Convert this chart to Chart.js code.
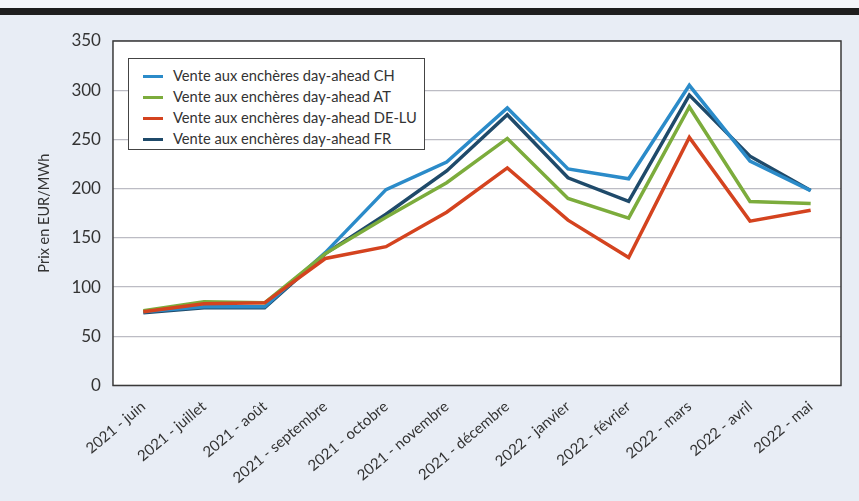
<!DOCTYPE html>
<html><head><meta charset="utf-8">
<script src="https://cdn.jsdelivr.net/npm/chart.js@4"></script>
<style>
html,body{margin:0;padding:0;width:859px;height:501px;overflow:hidden;background:#e8edf5;font-family:Lato,"Open Sans",sans-serif;}
#topbar{position:absolute;left:0;top:0;width:859px;height:8px;background:#f4f6fa;}
#bar{position:absolute;left:0;top:8px;width:859px;height:7px;background:#1e1e1e;}
#wrap{position:absolute;left:0;top:0;width:859px;height:501px;}
#legend{position:absolute;left:128px;top:58px;width:297px;height:92px;border:1.5px solid #444;background:#fff;box-sizing:border-box;padding:6px 0 0 14px;font-size:14.7px;color:#333;}
#legend div{height:21px;line-height:21px;white-space:nowrap;}
#legend span{display:inline-block;width:20px;height:3px;vertical-align:middle;margin-right:10px;position:relative;top:-1px;}
</style></head>
<body>
<div id="wrap"><canvas id="c" width="859" height="501"></canvas></div>
<div id="topbar"></div><div id="bar"></div>
<div id="legend"></div>
<script>
const categories = ["2021 - juin","2021 - juillet","2021 - août","2021 - septembre","2021 - octobre","2021 - novembre","2021 - décembre","2022 - janvier","2022 - février","2022 - mars","2022 - avril","2022 - mai"];
const seriesNames = ["Vente aux enchères day-ahead CH","Vente aux enchères day-ahead AT","Vente aux enchères day-ahead DE-LU","Vente aux enchères day-ahead FR"];
const valuesCH = [75, 80, 80, 135, 199, 227, 282, 220, 210, 305, 228, 198];
const valuesAT = [76, 85, 84, 134, 171, 206, 251, 190, 170, 283, 187, 185];
const valuesDE = [75, 83, 84, 129, 141, 176, 221, 168, 130, 252, 167, 178];
const valuesFR = [74, 79, 79, 134, 174, 218, 275, 211, 187, 295, 233, 198];
const colors = ["#2b8bc9","#7cac3c","#d4431f","#1f4a6a"];
const yTicks = [0,50,100,150,200,250,300,350];

const leg = document.getElementById('legend');
seriesNames.forEach((n,i)=>{const d=document.createElement('div');d.innerHTML='<span style="background:'+colors[i]+'"></span>'+n;leg.appendChild(d);});

const bgPlugin = {id:'bg',beforeDraw(chart){const {ctx,chartArea:a}=chart;ctx.save();ctx.fillStyle='#e8edf5';ctx.fillRect(0,0,chart.width,chart.height);ctx.fillStyle='#ffffff';ctx.fillRect(a.left,a.top,a.right-a.left,a.bottom-a.top);ctx.restore();},
 afterDraw(chart){const {ctx,chartArea:a}=chart;ctx.save();ctx.strokeStyle='#3a3a3a';ctx.lineWidth=1.5;ctx.strokeRect(a.left,a.top,a.right-a.left,a.bottom-a.top);ctx.restore();}};

const all=[valuesCH,valuesAT,valuesDE,valuesFR];
const order=[2,1,0,3];
new Chart(document.getElementById('c'),{
 type:'line',
 data:{labels:categories,datasets:all.map((v,i)=>({label:seriesNames[i],data:v,borderColor:colors[i],backgroundColor:colors[i],borderWidth:3.5,pointRadius:0,tension:0,order:order[i]}))},
 options:{responsive:false,animation:false,
  layout:{padding:{left:32,right:18,top:41,bottom:10}},
  plugins:{legend:{display:false},tooltip:{enabled:false}},
  scales:{
   x:{offset:true,grid:{display:false},border:{display:false},
      ticks:{maxRotation:40,minRotation:40,color:'#333',font:{family:'Lato',size:15},padding:4}},
   y:{min:0,max:350,afterBuildTicks(ax){ax.ticks=yTicks.map(v=>({value:v}));},
      grid:{color:'#bcbcc4',lineWidth:1.2,drawTicks:false},border:{display:false},
      ticks:{color:'#333',font:{family:'Lato',size:17},padding:12},
      title:{display:true,text:'Prix en EUR/MWh',color:'#333',font:{family:'Lato',size:14.5},padding:{bottom:6}}}
  }},
 plugins:[bgPlugin]
});
</script>
</body></html>
